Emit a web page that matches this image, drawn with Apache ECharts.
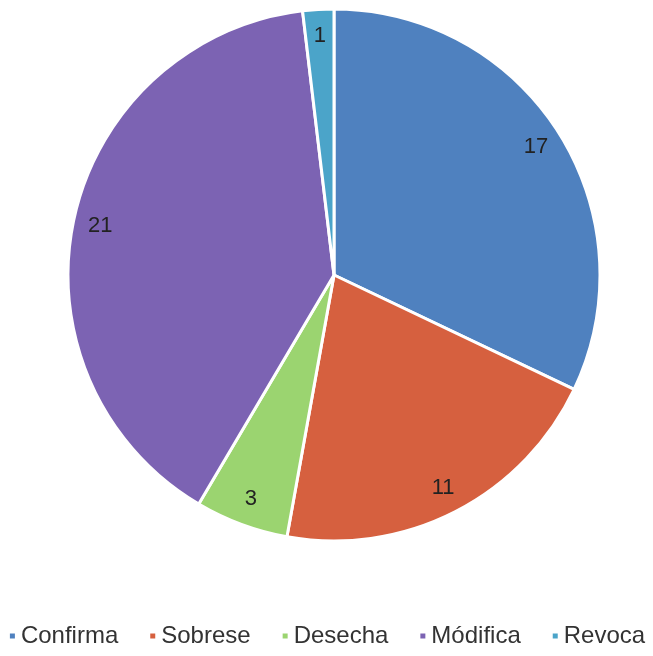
<!DOCTYPE html>
<html><head><meta charset="utf-8">
<script src="https://cdn.jsdelivr.net/npm/echarts@6/dist/echarts.min.js"></script>
<style>html,body{margin:0;padding:0;background:#fff}#c{width:653px;height:656px}</style>
</head><body><div id="c"></div>
<script>
const categories = ['Confirma', 'Sobrese', 'Desecha', 'Módifica', 'Revoca'];
const values = [17, 11, 3, 21, 1];
const colors = ['#4f81bf', '#d6603f', '#9bd470', '#7c63b3', '#4ba4c9'];

const data = categories.map((n, i) => ({ name: n, value: values[i], itemStyle: { color: colors[i] } }));
const chart = echarts.init(document.getElementById('c'));
chart.setOption({
  animation: false,
  color: colors,
  legend: {
    top: 619, left: 'center',
    icon: 'rect', itemWidth: 7, itemHeight: 7, itemGap: 30,
    textStyle: { fontFamily: 'Liberation Sans, Arial', fontSize: 24, color: '#333' },
    data: categories
  },
  series: [
    {
      type: 'pie', center: [334, 275], radius: [0, 266], startAngle: 90, clockwise: true,
      data: data,
      itemStyle: { borderColor: '#fff', borderWidth: 3 },
      label: { show: false }, labelLine: { show: false }, silent: true
    },
    {
      type: 'pie', center: [334, 275], radius: [206, 266], startAngle: 90, clockwise: true,
      data: categories.map((n, i) => ({ name: n, value: values[i], itemStyle: { color: 'transparent' } })),
      label: { show: true, position: 'inside', formatter: '{c}', fontFamily: 'Liberation Sans, Arial', fontSize: 22, color: '#222' },
      labelLine: { show: false }, silent: true, legendHoverLink: false
    }
  ]
});
</script></body></html>
